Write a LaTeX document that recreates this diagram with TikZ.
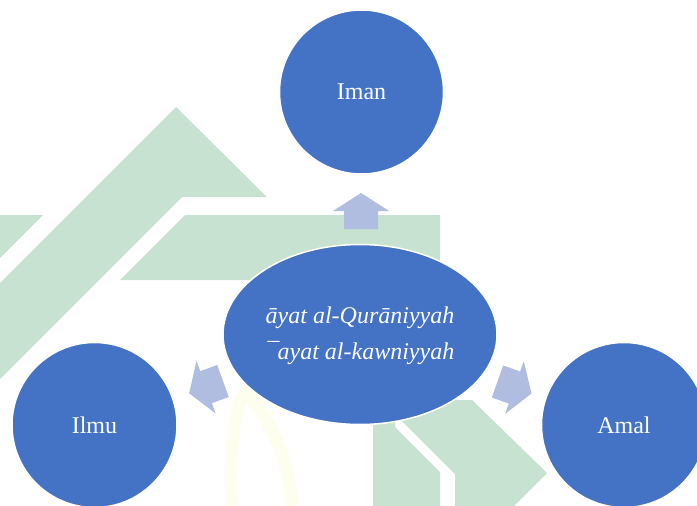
\documentclass[tikz,border=0pt]{standalone}
\usepackage{fontspec}
\setmainfont{Liberation Serif}
\usetikzlibrary{shapes.geometric}
\definecolor{bubblefill}{HTML}{4472C4}
\definecolor{arrowfill}{RGB}{176,188,224}
\definecolor{wmgreen}{RGB}{200,226,210}
\definecolor{wmyellow}{RGB}{254,254,238}
\tikzset{
  bubble/.style={ellipse, fill=bubblefill, draw=white, line width=1.5pt,
    text=white, font=\fontsize{24}{36}\selectfont, inner sep=0pt},
  wmshape/.style={fill=wmgreen},
  blockarrow/.pic={\fill[arrowfill] (0,-17) -- (18,-17) -- (18,-28) -- (36,0)
     -- (18,28) -- (18,17) -- (0,17) -- cycle;}
}
\begin{document}
\begin{tikzpicture}[x=1pt,y=-1pt]
\useasboundingbox (0,0) rectangle (697,506);
\clip (0,0) rectangle (697,506);
\fill[white] (0,0) rectangle (697,506);
% watermark
\fill[wmshape] (176,107) -- (267,197) -- (182,197) -- (0,379) -- (0,283) -- cycle;
\fill[wmshape] (0,215) -- (43,215) -- (0,258) -- cycle;
\fill[wmshape] (185,215) -- (440,215) -- (440,280) -- (120,280) -- cycle;
\fill[wmshape] (373,400) -- (395,400) -- (395,427) -- (440,472) -- (440,506) -- (373,506) -- cycle;
\fill[wmshape] (381,400) -- (472,400) -- (547,473) -- (514,506) -- (455,506) -- (455,474) -- cycle;
\draw[wmyellow, line width=13pt] (232,510) .. controls (229,445) and (234,405) .. (246,393)
   .. controls (264,410) and (289,452) .. (293,510);
% arrows
\pic[shift={(361,229)}, rotate=90] {blockarrow};
\pic[shift={(223,381)}, rotate=200] {blockarrow};
\pic[shift={(497.5,381.5)}, rotate=340.5] {blockarrow};
% bubbles
\node[bubble, minimum width=164pt, minimum height=164pt] (iman) at (361.5,92) {Iman};
\node[bubble, minimum width=165pt, minimum height=165pt] (ilmu) at (94.5,425) {Ilmu};
\node[bubble, minimum width=165pt, minimum height=165pt] (amal) at (624,425) {Amal};
\node[bubble, minimum width=274pt, minimum height=180pt, align=center,
  font=\fontsize{24}{36}\selectfont\itshape] (center) at (360,334.5)
  {\raisebox{-3pt}{\begin{tabular}{@{}c@{}}āyat al-Qurāniyyah\\[0pt]¯ayat al-kawniyyah\end{tabular}}};
\end{tikzpicture}
\end{document}
